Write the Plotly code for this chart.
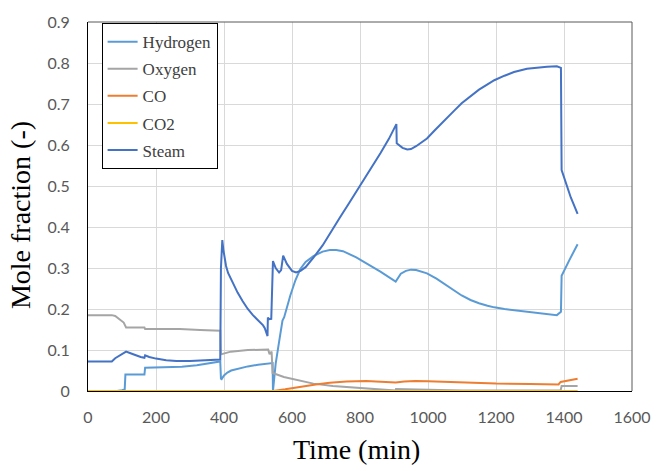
import plotly.graph_objects as go

# ---------------- data ----------------
steam_t = [0, 70, 80, 90, 100, 108, 112, 125, 140, 155, 166, 168, 180, 200, 230, 260, 300, 350, 389,
           391, 395, 398, 402, 406, 412, 421, 430, 440, 455, 470, 485, 500, 515, 520, 528,
           529, 533, 539, 544, 552, 562, 568, 574,
           585, 600, 612, 625, 640, 663, 690, 711, 740, 770, 800, 830, 860, 885, 907,
           908, 915, 925, 939, 950, 965, 980, 997, 1020, 1050, 1075, 1099,
           1125, 1150, 1175, 1195, 1225, 1253, 1291, 1320, 1350, 1379, 1391, 1393, 1405, 1420, 1440]
steam = [0.072, 0.072, 0.080, 0.085, 0.088, 0.092, 0.096, 0.092, 0.087, 0.083, 0.081, 0.087, 0.083,
         0.079, 0.075, 0.073, 0.073, 0.075, 0.077,
         0.300, 0.368, 0.345, 0.322, 0.305, 0.288, 0.272, 0.255, 0.240, 0.219, 0.200, 0.185, 0.172,
         0.160, 0.153, 0.134,
         0.179, 0.175, 0.176, 0.317, 0.300, 0.289, 0.295, 0.330,
         0.310, 0.293, 0.289, 0.293, 0.302, 0.325, 0.355, 0.384, 0.422, 0.461, 0.500, 0.540,
         0.580, 0.615, 0.651,
         0.604, 0.599, 0.593, 0.589, 0.590, 0.597, 0.606, 0.616, 0.636, 0.660, 0.682, 0.702,
         0.720, 0.735, 0.748, 0.758, 0.769, 0.778, 0.786, 0.789, 0.791, 0.792, 0.788, 0.539,
         0.508, 0.472, 0.432]

h2_t = [0, 85, 100, 105, 108, 110, 166, 168, 200, 250, 276, 320, 360, 389, 391, 393, 400, 410, 421,
        440, 470, 500, 528, 542, 543, 544, 546, 552, 562, 572, 577, 595, 610, 624, 640, 663, 690,
        711, 730, 750, 789, 818, 860, 905, 912, 920, 935, 950, 965, 980, 997, 1025, 1050, 1075,
        1099, 1125, 1150, 1175, 1195, 1225, 1253, 1291, 1340, 1379, 1391, 1393, 1415, 1440]
hydrogen = [0, 0, 0.002, 0.004, 0.004, 0.040, 0.040, 0.057, 0.058, 0.058, 0.059, 0.063, 0.068,
            0.072, 0.030, 0.029, 0.038, 0.045, 0.050, 0.054, 0.060, 0.064, 0.067, 0.069, 0.068,
            0.0, 0.020, 0.067, 0.120, 0.172, 0.180, 0.233, 0.270, 0.297, 0.315, 0.329, 0.340,
            0.344, 0.344, 0.341, 0.326, 0.312, 0.291, 0.267, 0.277, 0.286, 0.293, 0.296, 0.295,
            0.292, 0.287, 0.274, 0.260, 0.246, 0.233, 0.222, 0.214, 0.208, 0.204, 0.200, 0.197,
            0.193, 0.188, 0.185, 0.193, 0.281, 0.318, 0.358]

o2_t = [0, 70, 80, 95, 105, 109, 112, 166, 168, 200, 270, 330, 389, 391, 393, 420, 470, 530, 534,
        540, 543, 576, 620, 663, 720, 818, 905, 906, 1000, 1100, 1390, 1393, 1440]
oxygen = [0.185, 0.185, 0.183, 0.173, 0.167, 0.160, 0.155, 0.155, 0.151, 0.151, 0.151, 0.149,
          0.147, 0.092, 0.090, 0.096, 0.100, 0.101, 0.090, 0.096, 0.044, 0.034, 0.026, 0.018,
          0.012, 0.006, 0.001, 0.005, 0.003, 0.001, 0.001, 0.012, 0.012]

co_t = [0, 545, 580, 624, 670, 711, 760, 818, 870, 905, 930, 963, 1000, 1100, 1200, 1300, 1384,
        1390, 1440]
co = [0, 0, 0.004, 0.010, 0.016, 0.020, 0.023, 0.0246, 0.023, 0.021, 0.023, 0.0246, 0.024, 0.021,
      0.018, 0.017, 0.016, 0.022, 0.030]

co2_t = [0, 1440]
co2 = [0, 0]

series = [
    ("Hydrogen", h2_t, hydrogen, "#5B9BD5"),
    ("Oxygen", o2_t, oxygen, "#A5A5A5"),
    ("CO", co_t, co, "#ED7D31"),
    ("CO2", co2_t, co2, "#FFC000"),
    ("Steam", steam_t, steam, "#4472C4"),
]

x_ticks = [0, 200, 400, 600, 800, 1000, 1200, 1400, 1600]
y_ticks = [0, 0.1, 0.2, 0.3, 0.4, 0.5, 0.6, 0.7, 0.8, 0.9]

# ---------------- figure ----------------
fig = go.Figure()
for name, t, v, c in series:
    fig.add_trace(go.Scatter(x=t, y=v, name=name, mode="lines", legendgroup=name,
                             line=dict(color=c, width=2), cliponaxis=False))

title_font = "Times New Roman"
legend_font = "Times New Roman"
fig.update_layout(
    width=663, height=471,
    margin=dict(l=88, r=24, t=14, b=80),
    paper_bgcolor="white", plot_bgcolor="white",
    showlegend=True,
    legend=dict(x=0.025, y=0.997, xanchor="left", yanchor="top",
                bgcolor="white", bordercolor="black", borderwidth=1,
                font=dict(family=legend_font, size=17, color="#404040"),
                tracegroupgap=2, traceorder="grouped", itemwidth=30),
    xaxis=dict(range=[0, 1600], tickvals=x_ticks, showgrid=True, gridcolor="#D9D9D9",
               gridwidth=1, showline=True, linecolor="black", linewidth=1, zeroline=False,
               ticks="outside", ticklen=12, tickcolor="rgba(0,0,0,0)",
               tickfont=dict(family="Lato", size=16, color="#595959"), layer="below traces"),
    yaxis=dict(range=[0, 0.9], tickvals=y_ticks, showgrid=True, gridcolor="#D9D9D9",
               gridwidth=1, showline=True, linecolor="black", linewidth=1, zeroline=False,
               ticks="outside", ticklen=14, tickcolor="rgba(0,0,0,0)",
               tickfont=dict(family="Lato", size=16, color="#595959"), layer="below traces"),
    shapes=[
        dict(type="line", xref="paper", yref="paper", x0=0, x1=1, y0=1, y1=1,
             line=dict(color="#595959", width=1)),
        dict(type="line", xref="paper", yref="paper", x0=1, x1=1, y0=0, y1=1,
             line=dict(color="#595959", width=1)),
    ],
    annotations=[
        dict(text="Time (min)", xref="paper", yref="paper", x=0.493, y=-0.159,
             xanchor="center", yanchor="middle", showarrow=False,
             font=dict(family=title_font, size=28, color="black")),
        dict(text="Mole fraction (-)", xref="paper", yref="paper", x=-0.123, y=0.477,
             xanchor="center", yanchor="middle", showarrow=False, textangle=-90,
             font=dict(family=title_font, size=28, color="black")),
    ],
)

fig.write_html("out.html")
